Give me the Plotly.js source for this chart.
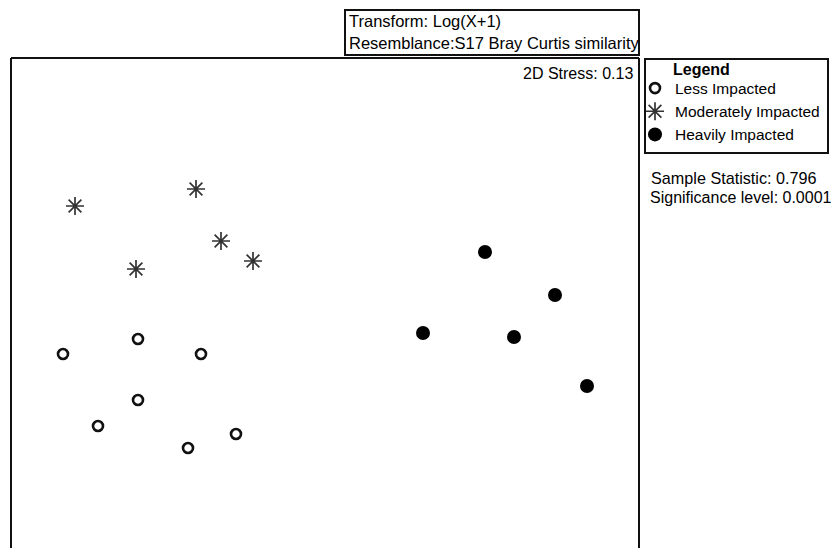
<!DOCTYPE html>
<html>
<head>
<meta charset="utf-8">
<script src="https://cdn.plot.ly/plotly-3.0.1.min.js"></script>
<style>html,body{margin:0;padding:0;background:#fff;}#chart{width:833px;height:548px;}</style>
</head>
<body>
<div id="chart"></div>
<script>
// nMDS coordinates (arbitrary units)
const groupNames = ["Less Impacted", "Moderately Impacted", "Heavily Impacted"];
const lessX = [-2.62, -1.87, -1.24, -1.87, -2.27, -1.37, -0.89];
const lessY = [-0.54, -0.39, -0.54, -1.00, -1.26, -1.48, -1.34];
const modX = [-2.50, -1.29, -1.04, -0.72, -1.89];
const modY = [0.94, 1.11, 0.59, 0.39, 0.31];
const heavyX = [1.60, 2.30, 0.98, 1.89, 2.62];
const heavyY = [0.48, 0.05, -0.33, -0.37, -0.86];
const stressText = "2D Stress: 0.13";
const transformText = "Transform: Log(X+1)";
const resemblanceText = "Resemblance:S17 Bray Curtis similarity";
const legendTitle = "Legend";
const sampleStatText = "Sample Statistic: 0.796";
const sigText = "Significance level: 0.0001";

const FONT = "Liberation Sans, Arial, sans-serif";
const W = 833, H = 548;
const px = v => v / W;          // pixel -> paper x
const py = v => (H - v) / H;    // pixel -> paper y

const traces = [
  {x: lessX, y: lessY, name: groupNames[0], mode: "markers", type: "scatter",
   marker: {symbol: "circle-open", size: 10, color: "#111", line: {width: 2.6, color: "#111"}}},
  {x: modX, y: modY, name: groupNames[1], mode: "markers", type: "scatter",
   marker: {symbol: "asterisk-open", size: 15, color: "#333", line: {width: 1.7, color: "#333"}}},
  {x: heavyX, y: heavyY, name: groupNames[2], mode: "markers", type: "scatter",
   marker: {symbol: "circle", size: 14, color: "#000"}}
];

const lineStyle = {color: "#111", width: 2};
const layout = {
  width: W, height: H,
  margin: {l: 0, r: 0, t: 0, b: 0, pad: 0},
  paper_bgcolor: "#fff", plot_bgcolor: "#fff",
  font: {family: FONT, size: 16, color: "#000"},
  xaxis: {domain: [px(11), px(639)], range: [-3.14, 3.14], showgrid: false, zeroline: false,
          showticklabels: false, ticks: "", showline: false, fixedrange: true},
  yaxis: {domain: [0, py(58)], range: [-2.48, 2.42], showgrid: false, zeroline: false,
          showticklabels: false, ticks: "", showline: false, fixedrange: true},
  showlegend: true,
  legend: {
    x: px(635), y: py(71.5), xanchor: "left", yanchor: "top",
    borderwidth: 0, bgcolor: "rgba(0,0,0,0)",
    font: {family: FONT, size: 15.5, color: "#000"},
    itemwidth: 30, tracegroupgap: 0
  },
  shapes: [
    // plot frame (left, top, right)
    {type: "line", xref: "paper", yref: "paper", x0: px(11), x1: px(11), y0: 0, y1: py(58), line: lineStyle},
    {type: "line", xref: "paper", yref: "paper", x0: px(11), x1: px(639), y0: py(58), y1: py(58), line: lineStyle},
    {type: "line", xref: "paper", yref: "paper", x0: px(639), x1: px(639), y0: 0, y1: py(58), line: lineStyle},
    // title box
    {type: "rect", xref: "paper", yref: "paper", x0: px(345), x1: px(639), y0: py(55), y1: py(10), line: lineStyle},
    // legend box
    {type: "rect", xref: "paper", yref: "paper", x0: px(645), x1: px(828), y0: py(153), y1: py(59), line: lineStyle}
  ],
  annotations: [
    {xref: "paper", yref: "paper", x: px(635), y: py(73), xanchor: "right", yanchor: "middle",
     text: stressText, showarrow: false, font: {family: FONT, size: 16}},
    {xref: "paper", yref: "paper", x: px(347), y: py(21), xanchor: "left", yanchor: "middle",
     text: transformText, showarrow: false, font: {family: FONT, size: 16.5}},
    {xref: "paper", yref: "paper", x: px(347), y: py(43), xanchor: "left", yanchor: "middle",
     text: resemblanceText, showarrow: false, font: {family: FONT, size: 16.5}},
    {xref: "paper", yref: "paper", x: px(671), y: py(69), xanchor: "left", yanchor: "middle",
     text: "<b>" + legendTitle + "</b>", showarrow: false, font: {family: FONT, size: 16}},
    {xref: "paper", yref: "paper", x: px(649), y: py(178), xanchor: "left", yanchor: "middle",
     text: sampleStatText, showarrow: false, font: {family: FONT, size: 16.2}},
    {xref: "paper", yref: "paper", x: px(648), y: py(197), xanchor: "left", yanchor: "middle",
     text: sigText, showarrow: false, font: {family: FONT, size: 16}}
  ]
};

Plotly.newPlot("chart", traces, layout, {displayModeBar: false, staticPlot: true});
</script>
</body>
</html>
